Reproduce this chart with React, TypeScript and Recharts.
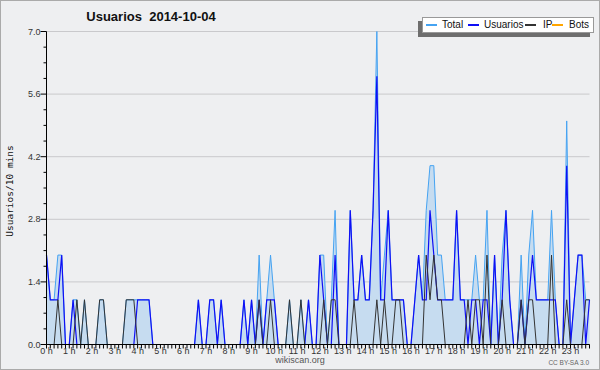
import { Area, ComposedChart, Legend, Line, XAxis, YAxis, CartesianGrid } from "recharts";

// 10-minute slots, 6 per hour, 2014-10-04
const hourLabels = [
  "0 h", "1 h", "2 h", "3 h", "4 h", "5 h", "6 h", "7 h", "8 h", "9 h", "10 h", "11 h",
  "12 h", "13 h", "14 h", "15 h", "16 h", "17 h", "18 h", "19 h", "20 h", "21 h", "22 h", "23 h",
];

const totalValues = [
  2, 1, 1, 2, 2, 0,  0, 1, 1, 0, 1, 0,  0, 0, 1, 1, 0, 0,  0, 0, 0, 1, 1, 1,
  1, 1, 1, 1, 0, 0,  0, 0, 0, 0, 0, 0,  0, 0, 0, 0, 1, 0,  0, 1, 1, 0, 1, 0,
  0, 0, 0, 0, 1, 0,  1, 0, 2, 0, 1, 2,  1, 0, 0, 0, 1, 0,  0, 1, 0, 1, 0, 0,
  2, 2, 0, 1, 3, 0,  0, 0, 3, 1, 1, 2,  1, 1, 3, 7, 1, 2,  3, 1, 1, 1, 1, 0,
  0, 1, 2, 1, 3, 4,  4, 2, 2, 1, 1, 1,  3, 1, 1, 1, 1, 2,  1, 1, 3, 0, 2, 0,
  2, 3, 1, 0, 0, 2,  0, 2, 3, 1, 1, 1,  1, 3, 1, 0, 0, 5,  0, 1, 2, 2, 1, 1,
];

const userValues = [
  2, 1, 1, 1, 2, 0,  0, 1, 0, 0, 0, 0,  0, 0, 0, 0, 0, 0,  0, 0, 0, 0, 0, 0,
  1, 1, 1, 1, 0, 0,  0, 0, 0, 0, 0, 0,  0, 0, 0, 0, 1, 0,  0, 1, 1, 0, 1, 0,
  0, 0, 0, 0, 1, 0,  1, 0, 1, 0, 1, 1,  1, 0, 0, 0, 0, 0,  0, 0, 0, 1, 0, 0,
  2, 1, 0, 0, 2, 0,  0, 0, 3, 1, 1, 2,  1, 1, 3, 6, 1, 1,  3, 1, 1, 1, 1, 0,
  0, 1, 2, 1, 1, 3,  2, 1, 1, 1, 1, 1,  3, 1, 1, 0, 1, 1,  0, 1, 1, 0, 2, 0,
  1, 3, 1, 0, 0, 1,  0, 1, 2, 1, 1, 1,  1, 1, 1, 0, 0, 4,  0, 1, 2, 2, 0, 1,
];

const ipValues = [
  0, 0, 0, 1, 0, 0,  0, 0, 1, 0, 1, 0,  0, 0, 1, 1, 0, 0,  0, 0, 0, 1, 1, 1,
  0, 0, 0, 0, 0, 0,  0, 0, 0, 0, 0, 0,  0, 0, 0, 0, 0, 0,  0, 0, 0, 0, 0, 0,
  0, 0, 0, 0, 0, 0,  0, 0, 1, 0, 0, 1,  0, 0, 0, 0, 1, 0,  0, 1, 0, 0, 0, 0,
  0, 1, 0, 1, 1, 0,  0, 0, 0, 1, 0, 0,  0, 0, 0, 1, 0, 1,  0, 0, 1, 1, 0, 0,
  0, 0, 0, 0, 2, 1,  2, 1, 1, 0, 0, 0,  0, 0, 0, 1, 0, 1,  1, 0, 2, 0, 0, 0,
  1, 0, 0, 0, 0, 1,  0, 1, 1, 0, 0, 0,  0, 2, 0, 0, 0, 1,  0, 0, 0, 0, 1, 1,
];

const botValues = [
  0, 0, 0, 0, 0, 0,  0, 0, 0, 0, 0, 0,  0, 0, 0, 0, 0, 0,  0, 0, 0, 0, 0, 0,
  0, 0, 0, 0, 0, 0,  0, 0, 0, 0, 0, 0,  0, 0, 0, 0, 0, 0,  0, 0, 0, 0, 0, 0,
  0, 0, 0, 0, 0, 0,  0, 0, 0, 0, 0, 0,  0, 0, 0, 0, 0, 0,  0, 0, 0, 0, 0, 0,
  0, 0, 0, 0, 0, 0,  0, 0, 0, 0, 0, 0,  0, 0, 0, 0, 0, 0,  0, 0, 0, 0, 0, 0,
  0, 0, 0, 0, 0, 0,  0, 0, 0, 0, 0, 0,  0, 0, 0, 0, 0, 0,  0, 0, 0, 0, 0, 0,
  0, 0, 0, 0, 0, 0,  0, 0, 0, 0, 0, 0,  0, 0, 0, 0, 0, 0,  0, 0, 0, 0, 0, 0,
];

const majorTicks = [0, 1.4, 2.8, 4.2, 5.6, 7.0];
const minorTicks = [
  0, 0.35, 0.7, 1.05, 1.4, 1.75, 2.1, 2.45, 2.8, 3.15, 3.5,
  3.85, 4.2, 4.55, 4.9, 5.25, 5.6, 5.95, 6.3, 6.65, 7.0,
];

const series = [
  { key: "total", name: "Total", color: "#45a3f2" },
  { key: "usuarios", name: "Usuarios", color: "#0f0ff5" },
  { key: "ip", name: "IP", color: "#333333" },
  { key: "bots", name: "Bots", color: "#ffa500" },
];

const data = totalValues.map((t, i) => ({
  slot: i,
  total: t,
  usuarios: userValues[i],
  ip: ipValues[i],
  bots: botValues[i],
}));
const slotTicks = data.map((d) => d.slot);

const FONT = "'Liberation Sans', Arial, sans-serif";

function YTick({ x, y, payload }: any) {
  const v = payload.value;
  const major = majorTicks.some((m) => Math.abs(m - v) < 1e-6);
  return (
    <g>
      <line x1={x - (major ? 6 : 3)} x2={x} y1={y} y2={y} stroke="#000" />
      {major && (
        <text x={x - 6} y={y + 3} textAnchor="end" fontSize={9} fontFamily={FONT} fill="#333">
          {v.toFixed(1)}
        </text>
      )}
    </g>
  );
}

function XTick({ x, y, payload }: any) {
  const i = payload.value;
  return (
    <g>
      <line x1={x} x2={x} y1={y} y2={y + 4} stroke="#000" />
      {i % 6 === 0 && (
        <text x={x} y={y + 9.5} textAnchor="middle" fontSize={9} fontFamily={FONT} fill="#333">
          {hourLabels[i / 6]}
        </text>
      )}
    </g>
  );
}

// legend item offsets inside the box
const legendLine = [3, 45, 102, 129];
const legendText = [19, 61, 120, 146];

function LegendBox() {
  return (
    <div
      style={{
        position: "relative",
        width: 170,
        height: 14,
        background: "#fff",
        border: "1px solid #999",
        boxShadow: "-4px 4px 0 #6e6e6e",
        fontFamily: FONT,
        fontSize: 10,
        color: "#111",
        whiteSpace: "nowrap",
      }}
    >
      {series.map((s, k) => (
        <span key={s.key}>
          <span
            style={{
              position: "absolute",
              left: legendLine[k],
              top: 6,
              width: 11,
              height: 2,
              background: s.color,
            }}
          />
          <span style={{ position: "absolute", left: legendText[k], top: 1, lineHeight: "12px" }}>{s.name}</span>
        </span>
      ))}
    </div>
  );
}

export default function App() {
  return (
    <div style={{ position: "absolute", left: 0, top: 0, width: 600, height: 370, background: "#eeeff1" }}>
      <ComposedChart
        width={600}
        height={370}
        data={data}
        margin={{ top: 31.5, right: 10.5, bottom: 0, left: 0 }}
      >
        <CartesianGrid horizontal vertical={false} horizontalValues={majorTicks} stroke="#c9c9cc" strokeDasharray="" />
        <Legend
          layout="vertical"
          align="center"
          verticalAlign="middle"
          wrapperStyle={{ left: 422, top: 17, width: 172, height: 16 }}
          content={() => <LegendBox />}
        />
        <Area
          type="linear"
          dataKey="total"
          name="Total"
          stroke="#45a3f2"
          strokeWidth={1}
          fill="#c6dcf0"
          fillOpacity={1}
          dot={false}
          activeDot={false}
          isAnimationActive={false}
        />
        <Line type="linear" dataKey="usuarios" name="Usuarios" stroke="#0f0ff5" strokeWidth={1.2} dot={false} activeDot={false} isAnimationActive={false} />
        <Line type="linear" dataKey="ip" name="IP" stroke="#333333" strokeWidth={1} dot={false} activeDot={false} isAnimationActive={false} />
        <Line type="linear" dataKey="bots" name="Bots" stroke="#ffa500" strokeWidth={1} dot={false} activeDot={false} isAnimationActive={false} />
        <XAxis
          dataKey="slot"
          type="number"
          domain={[0, 143]}
          ticks={slotTicks}
          interval={0}
          height={25.5}
          tickSize={0}
          tickMargin={0}
          tickLine={false}
          axisLine={{ stroke: "#000" }}
          tick={<XTick />}
        />
        <YAxis
          type="number"
          domain={[0, 7]}
          ticks={minorTicks}
          interval={0}
          width={46.5}
          tickSize={0}
          tickMargin={0}
          tickLine={false}
          axisLine={{ stroke: "#000" }}
          tick={<YTick />}
        />
      </ComposedChart>
      <svg width={600} height={370} style={{ position: "absolute", left: 0, top: 0, pointerEvents: "none" }}>
        <text
          x={151}
          y={20.5}
          textAnchor="middle"
          fontSize={13}
          fontWeight="bold"
          fontFamily={FONT}
          fill="#111"
          style={{ whiteSpace: "pre" }}
        >
          {"Usuarios  2014-10-04"}
        </text>
        <text
          x={13}
          y={191}
          transform="rotate(-90 13 191)"
          textAnchor="middle"
          fontSize={9.5}
          fontFamily="'DejaVu Sans Mono', monospace"
          fill="#111"
        >
          Usuarios/10 mins
        </text>
        <text x={300} y={363} textAnchor="middle" fontSize={9} fontFamily={FONT} fill="#555">
          wikiscan.org
        </text>
        <text x={589} y={365} textAnchor="end" fontSize={6.5} fontFamily={FONT} fill="#666">
          CC BY-SA 3.0
        </text>
        <rect x={0.5} y={0.5} width={599} height={369} fill="none" stroke="#aaaaaa" />
      </svg>
    </div>
  );
}
